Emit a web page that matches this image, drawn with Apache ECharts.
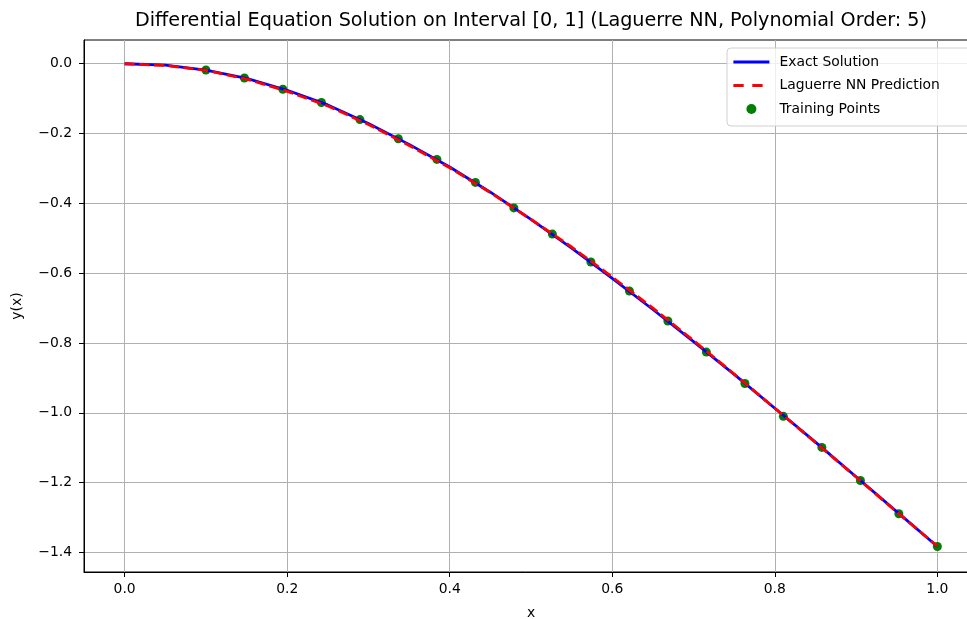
<!DOCTYPE html>
<html>
<head>
<meta charset="utf-8">
<script src="https://cdn.jsdelivr.net/npm/echarts@6/dist/echarts.min.js"></script>
<style>
html,body{margin:0;padding:0;background:#fff;}
#chart{width:967px;height:619px;}
</style>
</head>
<body>
<div id="chart"></div>
<script>
// ---- data ----
const titleText = 'Differential Equation Solution on Interval [0, 1] (Laguerre NN, Polynomial Order: 5)';
const xLabel = 'x';
const yLabel = 'y(x)';
const seriesNames = ['Exact Solution', 'Laguerre NN Prediction', 'Training Points'];

const xCurve = [0, 0.05, 0.1, 0.15, 0.2, 0.25, 0.3, 0.35, 0.4, 0.45, 0.5, 0.55, 0.6, 0.65, 0.7, 0.75, 0.8, 0.85, 0.9, 0.95, 1.0];
const yExact = [0, -0.004, -0.018, -0.042, -0.076, -0.118, -0.171, -0.231, -0.296, -0.368, -0.446, -0.528, -0.615, -0.704, -0.796, -0.890, -0.987, -1.084, -1.183, -1.283, -1.383];
const yPred  = [0, -0.005, -0.019, -0.044, -0.079, -0.121, -0.174, -0.234, -0.298, -0.369, -0.446, -0.525, -0.611, -0.700, -0.793, -0.889, -0.987, -1.085, -1.184, -1.284, -1.382];

const xTrain = [0.1, 0.1474, 0.1947, 0.2421, 0.2895, 0.3368, 0.3842, 0.4316, 0.4789, 0.5263, 0.5737, 0.6211, 0.6684, 0.7158, 0.7632, 0.8105, 0.8579, 0.9053, 0.9526, 1.0];
const yTrain = [-0.018, -0.041, -0.073, -0.111, -0.160, -0.215, -0.274, -0.340, -0.413, -0.488, -0.568, -0.651, -0.737, -0.826, -0.916, -1.010, -1.099, -1.194, -1.289, -1.383];

const xTicks = [0.0, 0.2, 0.4, 0.6, 0.8, 1.0];
const yTicks = [0.0, -0.2, -0.4, -0.6, -0.8, -1.0, -1.2, -1.4];

// ---- chart ----
const FONT = 'DejaVu Sans';
const fmt = v => (v < 0 ? '\u2212' : '') + Math.abs(v).toFixed(1);
const zip = (a, b) => a.map((v, i) => [v, b[i]]);
const hiddenSymbol = {color: 'rgba(0,0,0,0)', borderWidth: 0, opacity: 0};

const chart = echarts.init(document.getElementById('chart'), null, {renderer: 'canvas'});
chart.setOption({
  animation: false,
  backgroundColor: '#ffffff',
  textStyle: {fontFamily: FONT},
  title: {
    text: titleText,
    left: 531,
    top: 12,
    padding: 0,
    textAlign: 'center',
    textStyle: {fontFamily: FONT, fontSize: 19.2, fontWeight: 'normal', color: '#000'}
  },
  grid: {
    left: 84, top: 40, width: 894, height: 532,
    outerBoundsMode: 'none',
    containLabel: false,
    show: true, borderColor: '#000', borderWidth: 1, backgroundColor: 'transparent'
  },
  xAxis: {
    type: 'value', min: -0.05, max: 1.05,
    name: xLabel, nameLocation: 'middle', nameGap: 34,
    nameTextStyle: {fontFamily: FONT, fontSize: 13.9, color: '#000', align: 'center'},
    axisLine: {show: true, onZero: false, lineStyle: {color: '#000', width: 1}},
    axisTick: {show: true, inside: false, length: 5, customValues: xTicks, lineStyle: {color: '#000', width: 1}},
    axisLabel: {show: true, margin: 10, customValues: xTicks, formatter: fmt, fontFamily: FONT, fontSize: 13.9, color: '#000'},
    splitLine: {show: true, lineStyle: {color: '#b0b0b0', width: 1}}
  },
  yAxis: {
    type: 'value', min: -1.456, max: 0.068,
    name: yLabel, nameLocation: 'middle', nameGap: 60, nameRotate: 90,
    nameTextStyle: {fontFamily: FONT, fontSize: 13.9, color: '#000'},
    axisLine: {show: true, onZero: false, lineStyle: {color: '#000', width: 1}},
    axisTick: {show: true, inside: false, length: 5, customValues: yTicks, lineStyle: {color: '#000', width: 1}},
    axisLabel: {show: true, margin: 12, customValues: yTicks, formatter: fmt, fontFamily: FONT, fontSize: 13.9, color: '#000'},
    splitLine: {show: true, lineStyle: {color: '#b0b0b0', width: 1}}
  },
  legend: {
    orient: 'vertical',
    left: 727, top: 48,
    padding: [7, 40, 10, 5],
    itemWidth: 36, itemHeight: 10, itemGap: 9.5,
    backgroundColor: 'rgba(255,255,255,0.8)',
    borderColor: '#d0d0d0', borderWidth: 1, borderRadius: 4,
    textStyle: {fontFamily: FONT, fontSize: 13.9, color: '#000', lineHeight: 14, padding: [0, 0, 0, 5]},
    data: [
      {name: seriesNames[0], itemStyle: hiddenSymbol, lineStyle: {width: 2.8, color: '#0000ff', type: 'solid'}},
      {name: seriesNames[1], itemStyle: hiddenSymbol, lineStyle: {width: 2.8, color: '#ff0000', type: [10.3, 8.6]}},
      {name: seriesNames[2], icon: 'circle'}
    ]
  },
  series: [
    {
      name: seriesNames[2], type: 'scatter', data: zip(xTrain, yTrain),
      symbol: 'circle', symbolSize: 9, itemStyle: {color: '#008000', opacity: 1}, z: 1
    },
    {
      name: seriesNames[0], type: 'line', data: zip(xCurve, yExact),
      symbol: 'none', smooth: false, lineStyle: {color: '#0000ff', width: 2.8}, itemStyle: {color: '#0000ff'}, z: 2
    },
    {
      name: seriesNames[1], type: 'line', data: zip(xCurve, yPred),
      symbol: 'none', smooth: false, lineStyle: {color: '#ff0000', width: 2.8, type: [10.3, 4.4]}, itemStyle: {color: '#ff0000'}, z: 3
    }
  ]
});
</script>
</body>
</html>
